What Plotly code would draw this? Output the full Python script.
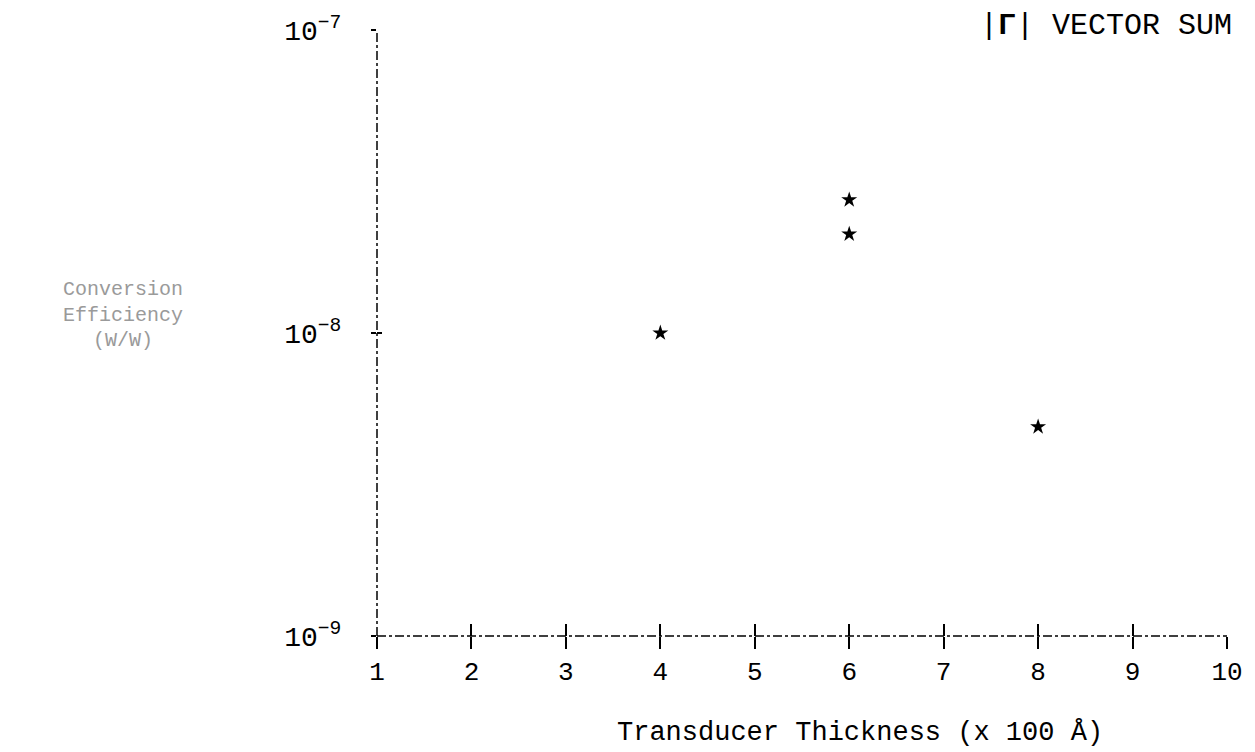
import plotly.graph_objects as go

# Data
thickness = [4, 6, 6, 8]                         # x 100 Å
efficiency = [1.0e-8, 2.75e-8, 2.12e-8, 4.9e-9]  # W/W

x_ticks = [1, 2, 3, 4, 5, 6, 7, 8, 9, 10]
x_tick_labels = ["1", "2", "3", "4", "5", "6", "7", "8", "9", "10"]
y_ticks = [1e-9, 1e-8, 1e-7]
y_tick_labels = ["10<sup>−9</sup>", "10<sup>−8</sup>", "10<sup>−7</sup>"]
y_title_lines = ["Conversion", "Efficiency", "(W/W)"]

FONT = "Liberation Mono"

fig = go.Figure()
fig.add_trace(go.Scatter(
    x=thickness, y=efficiency, mode="markers",
    marker=dict(symbol="star", size=12, color="black", line=dict(width=0)),
    showlegend=False, hoverinfo="skip",
))
# invisible helper trace to activate the overlay axes (crossing ticks)
fig.add_trace(go.Scatter(
    x=thickness, y=efficiency, mode="markers", xaxis="x2", yaxis="y2",
    marker=dict(opacity=0), showlegend=False, hoverinfo="skip",
))

L, R, T, B = 377, 17, 26, 116
W, H = 1255, 752

fig.update_layout(
    width=W, height=H,
    margin=dict(l=L, r=R, t=T, b=B, pad=0),
    paper_bgcolor="white", plot_bgcolor="white",
    font=dict(family=FONT, color="black", size=24),
    xaxis=dict(
        range=[1, 10], tickvals=x_ticks, ticktext=x_tick_labels,
        ticks="outside", ticklen=12, tickwidth=2, tickcolor="black",
        showgrid=False, zeroline=False, showline=False,
        tickfont=dict(size=26, family=FONT), ticklabelstandoff=0,
    ),
    xaxis2=dict(
        range=[1, 10], tickvals=x_ticks, overlaying="x", anchor="y",
        ticks="inside", ticklen=12, tickwidth=2, tickcolor="black",
        showticklabels=False, showgrid=False, zeroline=False, showline=False,
    ),
    yaxis=dict(
        type="log", range=[-9, -7], tickvals=y_ticks, ticktext=y_tick_labels,
        ticks="outside", ticklen=5, tickwidth=2, tickcolor="black",
        showgrid=False, zeroline=False, showline=False,
        tickfont=dict(size=28, family=FONT), ticklabelstandoff=24,
    ),
    yaxis2=dict(
        type="log", range=[-9, -7], tickvals=y_ticks, overlaying="y", anchor="x",
        ticks="inside", ticklen=5, tickwidth=2, tickcolor="black",
        showticklabels=False, showgrid=False, zeroline=False, showline=False,
    ),
)

# broken (dash-dot) axis lines
fig.add_shape(type="line", xref="paper", yref="paper", x0=0, x1=1, y0=0, y1=0,
              line=dict(color="black", width=1.5, dash="dashdot"))
fig.add_shape(type="line", xref="paper", yref="paper", x0=0, x1=0, y0=0, y1=1,
              line=dict(color="black", width=1.5, dash="dashdot"))

def px_to_paper_x(px):
    return (px - L) / (W - L - R)

def px_to_paper_y(py):
    return (H - B - py) / (H - T - B)

# title at top right
fig.add_annotation(
    text="|<b>Γ</b>| VECTOR SUM", xref="paper", yref="paper",
    x=px_to_paper_x(1245), y=px_to_paper_y(22), xanchor="right", yanchor="middle",
    showarrow=False, font=dict(size=30, family=FONT, color="black"),
)

# x-axis title
fig.add_annotation(
    text="Transducer Thickness (x 100 Å)", xref="paper", yref="paper",
    x=px_to_paper_x(866), y=px_to_paper_y(734), xanchor="center", yanchor="middle",
    showarrow=False, font=dict(size=27, family=FONT, color="black"),
)

# faded y-axis title (three lines)
for line_text, py in zip(y_title_lines, [287, 313, 339]):
    fig.add_annotation(
        text=line_text, xref="paper", yref="paper",
        x=px_to_paper_x(120), y=px_to_paper_y(py), xanchor="center", yanchor="middle",
        showarrow=False, font=dict(size=20, family=FONT, color="#9a9a9a"),
    )

fig.write_html("out.html")
